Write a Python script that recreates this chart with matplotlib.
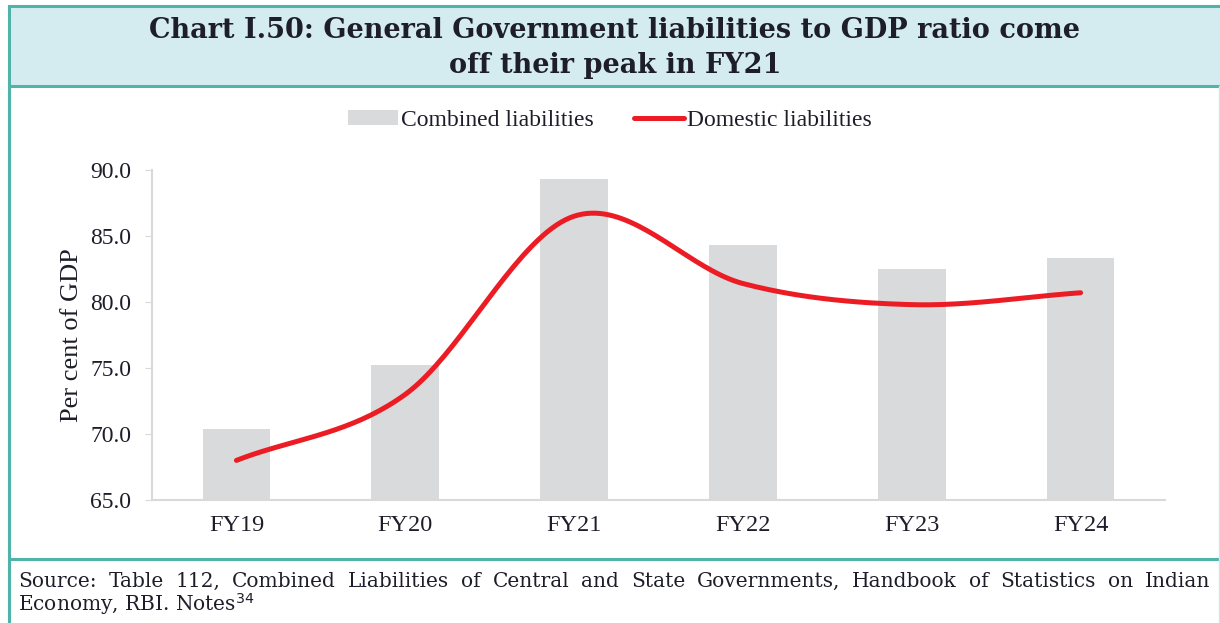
import numpy as np
import matplotlib.pyplot as plt
from matplotlib.patches import Rectangle, Patch
from matplotlib.lines import Line2D

years = ['FY19', 'FY20', 'FY21', 'FY22', 'FY23', 'FY24']
combined = [70.4, 75.2, 89.3, 84.3, 82.5, 83.3]
domestic = [68.0, 73.0, 86.5, 81.4, 79.8, 80.7]

title = 'Chart I.50: General Government liabilities to GDP ratio come\noff their peak in FY21'
source1 = 'Source: Table 112, Combined Liabilities of Central and State Governments, Handbook of Statistics on Indian'
source2 = 'Economy, RBI. Notes$^{34}$'

teal = '#4fb3a8'
text_col = '#1e1e2a'
W, H = 1220, 623


def smooth(x, y, n=40):
    # excel style smoothed line (catmull-rom through the data points)
    x = np.asarray(x, float)
    y = np.asarray(y, float)
    px = np.concatenate([[2 * x[0] - x[1]], x, [2 * x[-1] - x[-2]]])
    py = np.concatenate([[2 * y[0] - y[1]], y, [2 * y[-1] - y[-2]]])
    xs, ys = [], []
    for i in range(1, len(px) - 2):
        t = np.linspace(0, 1, n)
        for p, out in ((px, xs), (py, ys)):
            p0, p1, p2, p3 = p[i - 1], p[i], p[i + 1], p[i + 2]
            c1 = p1 + (p2 - p0) / 6
            c2 = p2 - (p3 - p1) / 6
            out.extend((1 - t) ** 3 * p1 + 3 * (1 - t) ** 2 * t * c1 + 3 * (1 - t) * t ** 2 * c2 + t ** 3 * p2)
    return np.array(xs), np.array(ys)


plt.rcParams['font.family'] = ['Liberation Serif', 'DejaVu Serif']

fig = plt.figure(figsize=(12.2, 6.23), dpi=100)

# frame and title box
fig.patches.append(Rectangle((9 / W, 1 - 86 / H), (W - 9) / W, 80 / H, transform=fig.transFigure,
                             facecolor='#d4ecef', edgecolor='none'))
for y in (6, 86, 559):
    fig.add_artist(Line2D([9 / W, 1], [1 - y / H, 1 - y / H], color=teal, lw=2.2))
fig.add_artist(Line2D([9 / W, 9 / W], [0, 1 - 6 / H], color=teal, lw=2.2))
fig.add_artist(Line2D([1219 / W, 1219 / W], [0, 1 - 86 / H], color='#cfe6e6', lw=1))

fig.text(615 / W, 1 - 48 / H, title, ha='center', va='center', fontsize=19.5, fontweight='bold',
         color=text_col, family=['DejaVu Serif'], linespacing=1.4)

# source note, first line justified across the box
src_kw = dict(fontsize=14.5, color=text_col, family=['DejaVu Serif'], va='baseline')
words = [fig.text(0, 0, w, **src_kw) for w in source1.split()]
fig.text(18 / W, 1 - 611 / H, source2, **src_kw)
fig.canvas.draw()
r = fig.canvas.get_renderer()
widths = [t.get_window_extent(r).width for t in words]
left, right = 18, 1210
gap = (right - left - sum(widths)) / (len(words) - 1)
xpos = left
for t, w in zip(words, widths):
    t.set_position((xpos / W, 1 - 587 / H))
    xpos += w + gap

ax = fig.add_axes([152 / W, 1 - 500 / H, 1013 / W, 330 / H])
x = np.arange(len(years))
ax.bar(x, combined, width=0.4, color='#d9dadc', zorder=1)
sx, sy = smooth(x, domestic)
ax.plot(sx, sy, color='#ec1c24', lw=3.6, solid_capstyle='round', zorder=2)

ax.set_xlim(-0.5, len(years) - 0.5)
ax.set_ylim(65, 90)
ax.set_yticks(np.arange(65, 90.1, 5))
ax.set_yticklabels([f'{v:.1f}' for v in np.arange(65, 90.1, 5)])
ax.set_xticks(x)
ax.set_xticklabels(years)
ax.tick_params(axis='y', length=5, color='#d9d9d9', labelsize=17, labelcolor=text_col, pad=10)
ax.tick_params(axis='x', length=0, labelsize=17.5, labelcolor=text_col, pad=11)
ax.set_ylabel('Per cent of GDP', fontsize=19, color=text_col, labelpad=5)
for s in ('top', 'right'):
    ax.spines[s].set_visible(False)
for s in ('left', 'bottom'):
    ax.spines[s].set_color('#d9d9d9')
    ax.spines[s].set_linewidth(1.5)

handles = [Patch(facecolor='#d9dadc', label='Combined liabilities'),
           Line2D([], [], color='#ec1c24', lw=3.6, solid_capstyle='round', label='Domestic liabilities')]
ax.legend(handles=handles, loc='center', bbox_to_anchor=(610 / W, 1 - 120 / H), bbox_transform=fig.transFigure,
          ncol=2, frameon=False, fontsize=17, labelcolor=text_col, handlelength=2.1,
          handletextpad=0.15, columnspacing=1.7, handleheight=0.6)

fig.savefig('out.png', dpi=100)
